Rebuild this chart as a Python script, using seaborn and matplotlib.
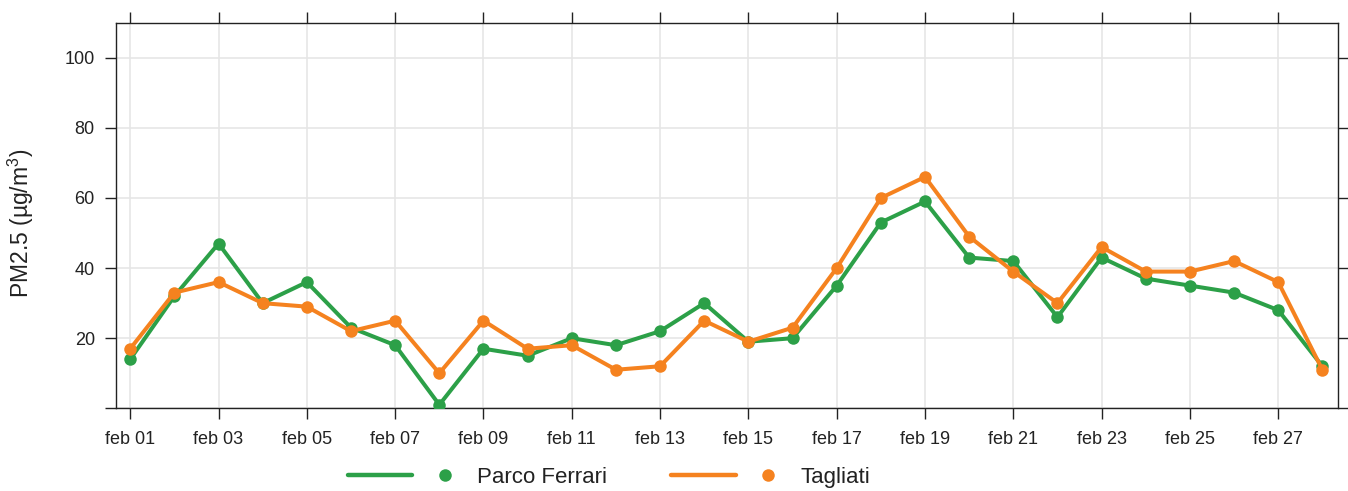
import matplotlib
matplotlib.use("Agg")
import matplotlib.pyplot as plt
from matplotlib.lines import Line2D
from matplotlib.legend_handler import HandlerTuple
import seaborn as sns
import pandas as pd

days = list(range(1, 29))
parco_ferrari = [14, 32, 47, 30, 36, 23, 18, 1, 17, 15, 20, 18, 22, 30,
                 19, 20, 35, 53, 59, 43, 42, 26, 43, 37, 35, 33, 28, 12]
tagliati = [17, 33, 36, 30, 29, 22, 25, 10, 25, 17, 18, 11, 12, 25,
            19, 23, 40, 60, 66, 49, 39, 30, 46, 39, 39, 42, 36, 11]
series_names = ["Parco Ferrari", "Tagliati"]
colors = ["#2ca048", "#f5821f"]
xtick_days = list(range(1, 29, 2))
xtick_labels = ["feb %02d" % d for d in xtick_days]
ytick_values = [0, 20, 40, 60, 80, 100]
ytick_labels = ["", "20", "40", "60", "80", "100"]

df = pd.DataFrame({
    "day": days * 2,
    "value": parco_ferrari + tagliati,
    "site": [series_names[0]] * len(days) + [series_names[1]] * len(days),
})

sns.set_theme(style="ticks")
plt.rcParams["font.family"] = ["Liberation Sans", "DejaVu Sans"]
plt.rcParams["mathtext.default"] = "regular"

fig = plt.figure(figsize=(13.48, 4.91), dpi=100)
ax = fig.add_axes([0.0858, 0.1684, 0.9928 - 0.0858, 0.9538 - 0.1684])

sns.lineplot(data=df, x="day", y="value", hue="site", hue_order=series_names,
             palette=colors, marker="o", markersize=9, markeredgewidth=0,
             linewidth=2.9, legend=False, ax=ax, zorder=3)

ax.set_xlim(0.67, 28.36)
ax.set_ylim(0, 110)
ax.set_xticks(xtick_days)
ax.set_xticklabels(xtick_labels)
ax.set_yticks(ytick_values)
ax.set_yticklabels(ytick_labels)
ax.grid(True, color="#e6e6e6", linewidth=1.2, zorder=0)
ax.set_axisbelow(True)
for s in ax.spines.values():
    s.set_visible(True)
    s.set_linewidth(1.0)
    s.set_color("#222222")
ax.tick_params(axis="both", which="major", direction="out", length=8, width=1.0,
               color="#222222", labelsize=13, labelcolor="#222222", pad=8,
               top=True, right=True, labeltop=False, labelright=False)
ax.tick_params(axis="y", pad=7)
ax.set_xlabel("")
ax.set_ylabel("PM2.5 (µg/m$^3$)", fontsize=16.5, color="#222222")
ax.yaxis.set_label_coords(-0.0650, 0.479)

handles = []
for c in colors:
    ln = Line2D([], [], color=c, linewidth=3.2, solid_capstyle="round")
    mk = Line2D([], [], color=c, marker="o", markersize=9, linestyle="none",
                markeredgewidth=0)
    handles.append((ln, mk))
fig.legend(handles, series_names, loc="center", bbox_to_anchor=(0.4518, 0.027),
           ncol=2, frameon=False, fontsize=16, handlelength=5.8,
           handletextpad=0.0, columnspacing=2.9, borderpad=0,
           handler_map={tuple: HandlerTuple(ndivide=None, pad=0.0)},
           labelcolor="#222222")

fig.savefig("out.png", dpi=100)
